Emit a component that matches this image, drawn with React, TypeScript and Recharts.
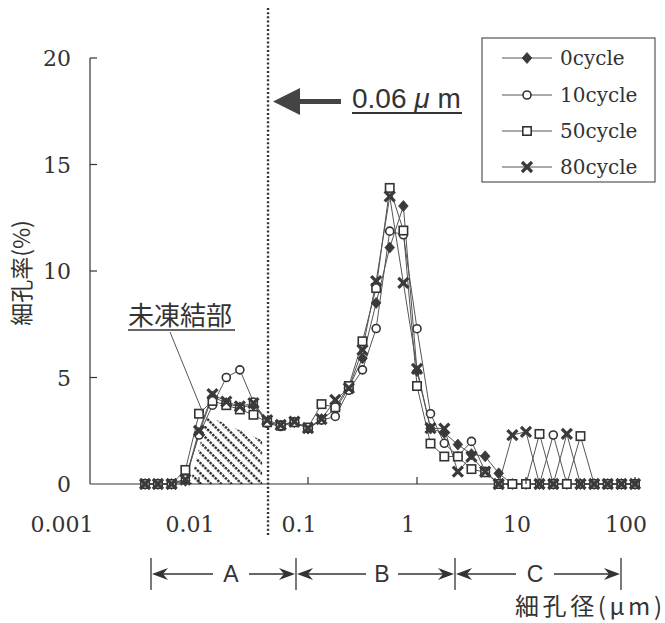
import React from 'react';
import { ComposedChart, Line, Area, XAxis, YAxis, ReferenceLine } from 'recharts';

// Pore diameter classes (μm), eight per decade
const poreSize = [
  0.0032, 0.0042, 0.0056, 0.0075, 0.01, 0.0133, 0.0178, 0.0237, 0.0316, 0.0422,
  0.0562, 0.075, 0.1, 0.133, 0.178, 0.237, 0.316, 0.422, 0.562, 0.75,
  1, 1.33, 1.78, 2.37, 3.16, 4.22, 5.62, 7.5, 10, 13.3,
  17.8, 23.7, 31.6, 42.2, 56.2, 75, 100,
];

// Pore volume fraction (%) per class, by number of freeze-thaw cycles
const cycle0 = [
  0, 0, 0, 0.15, 2.4, 4.1, 3.8, 3.6, 3.7, 2.9,
  2.75, 2.9, 2.6, 3.05, 3.5, 4.5, 5.9, 8.5, 11.1, 13.05,
  5.3, 2.6, 2.4, 1.85, 1.4, 1.3, 0.5, 0, 0, 0,
  0, 0, 0, 0, 0, 0, 0,
];
const cycle10 = [
  0, 0, 0, 0.25, 2.3, 3.7, 5.0, 5.36, 3.85, 2.85,
  2.7, 2.9, 2.6, 3.0, 3.17, 4.4, 5.36, 7.3, 11.87, 11.7,
  7.29, 3.3, 1.91, 1.3, 2.0, 0.6, 0, 0, 0, 0,
  2.3, 0, 0, 0, 0, 0, 0,
];
const cycle50 = [
  0, 0, 0, 0.66, 3.3, 3.9, 3.7, 3.5, 3.25, 2.9,
  2.75, 2.9, 2.65, 3.75, 3.6, 4.6, 6.7, 9.2, 13.9, 11.9,
  4.6, 1.9, 1.29, 1.29, 0.7, 0.55, 0, 0, 0, 2.35,
  0, 0, 2.25, 0, 0, 0, 0,
];
const cycle80 = [
  0, 0, 0, 0.2, 2.5, 4.22, 3.87, 3.64, 3.8, 3.0,
  2.78, 2.93, 2.62, 3.05, 3.95, 4.5, 6.3, 9.52, 13.5, 9.44,
  5.4, 2.62, 2.6, 0.58, 1.29, 0.58, 0, 2.3, 2.45, 0,
  0, 2.35, 0, 0, 0, 0, 0,
];

const seriesNames = ['0cycle', '10cycle', '50cycle', '80cycle'];

const xTicks = [0.001, 0.01, 0.1, 1, 10, 100];
const xTickLabels = ['0.001', '0.01', '0.1', '1', '10', '100'];
const yTicks = [0, 5, 10, 15, 20];

// Unfrozen-water region outline (size μm, fraction %)
const unfrozenSize = [0.0083, 0.0119, 0.038];
const unfrozenValue = [0, 3.2, 2.05];

// Threshold pore size marked by the dotted line
const thresholdSize = 0.043;

const rows = poreSize.map((x, i) => ({
  x,
  c0: cycle0[i],
  c10: cycle10[i],
  c50: cycle50[i],
  c80: cycle80[i],
}));
const unfrozenRows = unfrozenSize.map((x, i) => ({ x, v: unfrozenValue[i] }));

const INK = '#333';
const SERIF = "'DejaVu Serif', serif";
const SANS = "'Liberation Sans', Arial, sans-serif";
const CJK = "'Noto Sans CJK JP', sans-serif";

type Kind = 'diamond' | 'circle' | 'square' | 'cross';
const kinds: Kind[] = ['diamond', 'circle', 'square', 'cross'];
const keys = ['c0', 'c10', 'c50', 'c80'];

function Marker({ kind, cx, cy }: { kind: Kind; cx: number; cy: number }) {
  if (kind === 'diamond') {
    return (
      <polygon
        points={`${cx},${cy - 5.5} ${cx + 4.8},${cy} ${cx},${cy + 5.5} ${cx - 4.8},${cy}`}
        fill="#3a3a3a"
        stroke="#3a3a3a"
        strokeWidth={0.8}
      />
    );
  }
  if (kind === 'circle') {
    return <circle cx={cx} cy={cy} r={4} fill="#fff" stroke={INK} strokeWidth={1.6} />;
  }
  if (kind === 'square') {
    return <rect x={cx - 4.2} y={cy - 4.2} width={8.4} height={8.4} fill="#fff" stroke={INK} strokeWidth={1.6} />;
  }
  return (
    <g stroke="#3a3a3a" strokeWidth={3.2}>
      <line x1={cx - 5} y1={cy - 5} x2={cx + 5} y2={cy + 5} />
      <line x1={cx - 5} y1={cy + 5} x2={cx + 5} y2={cy - 5} />
    </g>
  );
}

const XTick = (props: any) => {
  const { x, y, payload } = props;
  const i = xTicks.indexOf(payload.value);
  // labels sit slightly left of their tick; the first one hangs further left
  const lx = i === 0 ? x - 28 : x - 9;
  return (
    <g>
      {i > 0 && <line x1={x} y1={y} x2={x} y2={y - 7} stroke={INK} strokeWidth={1.2} />}
      <text x={lx} y={y + 48} textAnchor="middle" fontFamily={SERIF} fontSize={22} fill={INK}>
        {xTickLabels[i]}
      </text>
    </g>
  );
};

const YTick = (props: any) => {
  const { x, y, payload } = props;
  return (
    <g>
      {payload.value > 0 && <line x1={x} y1={y} x2={x + 7} y2={y} stroke={INK} strokeWidth={1.2} />}
      <text x={x - 19} y={y + 8} textAnchor="end" fontFamily={SERIF} fontSize={22} fill={INK}>
        {payload.value}
      </text>
    </g>
  );
};

// Horizontal range bracket with arrowheads at both ends and a centred letter
function RangeArrow({ x1, x2, y, label, gap }: { x1: number; x2: number; y: number; label: string; gap: [number, number] }) {
  const head = (tip: number, dir: number) =>
    `${tip},${y} ${tip + dir * 16},${y - 6} ${tip + dir * 11},${y} ${tip + dir * 16},${y + 6}`;
  return (
    <g>
      <line x1={x1 + 10} y1={y} x2={gap[0]} y2={y} stroke={INK} strokeWidth={1.3} />
      <line x1={gap[1]} y1={y} x2={x2 - 10} y2={y} stroke={INK} strokeWidth={1.3} />
      <polygon points={head(x1 + 1, 1)} fill={INK} />
      <polygon points={head(x2 - 1, -1)} fill={INK} />
      <text x={(gap[0] + gap[1]) / 2} y={y + 8} textAnchor="middle" fontFamily={SANS} fontSize={23} fill={INK}>
        {label}
      </text>
    </g>
  );
}

export default function App() {
  const legendRows = [58, 95, 131, 167];
  return (
    <div style={{ position: 'absolute', left: 0, top: 0, width: 665, height: 623, background: '#fff' }}>
      <svg width={0} height={0} style={{ position: 'absolute' }}>
        <defs>
          <pattern id="unfrozenHatch" width={7.2} height={7.2} patternUnits="userSpaceOnUse" patternTransform="rotate(-45)">
            <line x1={1.5} y1={0} x2={1.5} y2={7.2} stroke="#222" strokeWidth={2.3} strokeDasharray="2.4 1.2" />
          </pattern>
        </defs>
      </svg>

      <ComposedChart width={665} height={623} data={rows} margin={{ top: 58, right: 30, bottom: 79, left: 0 }}>
        <XAxis
          dataKey="x"
          type="number"
          scale="log"
          domain={[0.001, 100]}
          ticks={xTicks}
          height={60}
          tickLine={false}
          tickSize={0}
          tickMargin={0}
          tick={<XTick />}
          axisLine={{ stroke: INK, strokeWidth: 1.2 }}
        />
        <YAxis
          type="number"
          domain={[0, 20]}
          ticks={yTicks}
          width={90}
          tickLine={false}
          tickSize={0}
          tickMargin={0}
          tick={<YTick />}
          axisLine={{ stroke: INK, strokeWidth: 1.2 }}
        />
        <Area
          data={unfrozenRows}
          dataKey="v"
          type="linear"
          fill="url(#unfrozenHatch)"
          fillOpacity={1}
          stroke="none"
          dot={false}
          activeDot={false}
          isAnimationActive={false}
        />
        <ReferenceLine
          segment={[
            { x: thresholdSize, y: 22.35 },
            { x: thresholdSize, y: -2.4 },
          ]}
          ifOverflow="visible"
          stroke="#333"
          strokeWidth={2.4}
          strokeDasharray="2 2.2"
        />
        {keys.map((k, s) => (
          <Line
            key={k}
            dataKey={k}
            name={seriesNames[s]}
            type="linear"
            stroke="#555"
            strokeWidth={1}
            isAnimationActive={false}
            activeDot={false}
            dot={(p: any) => (
              <g key={`${k}-${p.index}`}>
                <Marker kind={kinds[s]} cx={p.cx} cy={p.cy} />
              </g>
            )}
          />
        ))}
      </ComposedChart>

      <svg width={665} height={623} style={{ position: 'absolute', left: 0, top: 0, pointerEvents: 'none' }}>
        {/* legend */}
        <rect x={482} y={38} width={173} height={144} fill="#fff" stroke="#555" strokeWidth={1.2} />
        {seriesNames.map((name, s) => (
          <g key={name}>
            <line x1={502} y1={legendRows[s]} x2={552} y2={legendRows[s]} stroke="#555" strokeWidth={1} />
            <Marker kind={kinds[s]} cx={527} cy={legendRows[s]} />
            <text x={560} y={legendRows[s] + 7} fontFamily={SERIF} fontSize={20} fill={INK}>
              {name}
            </text>
          </g>
        ))}

        {/* threshold callout */}
        <polygon points="273,101.5 300,88 300,99 341,99 341,104 300,104 300,115" fill="#444" />
        <text x={352} y={108} fontFamily={SANS} fontSize={28} fill={INK}>
          0.06 <tspan fontStyle="italic">μ</tspan> m
        </text>
        <line x1={352} y1={113} x2={462} y2={113} stroke={INK} strokeWidth={1.8} />

        {/* unfrozen-region callout */}
        <text x={128} y={325} fontFamily={CJK} fontSize={26} fill={INK}>
          未凍結部
        </text>
        <line x1={128} y1={330} x2={235} y2={330} stroke={INK} strokeWidth={1.5} />
        <line x1={170} y1={332} x2={205} y2={418} stroke="#555" strokeWidth={1} />

        {/* pore-size ranges A / B / C */}
        {[151, 296, 455, 621].map((bx) => (
          <line key={bx} x1={bx} y1={558} x2={bx} y2={590} stroke={INK} strokeWidth={1.3} />
        ))}
        <RangeArrow x1={151} x2={296} y={574} label="A" gap={[213, 249]} />
        <RangeArrow x1={296} x2={455} y={574} label="B" gap={[366, 398]} />
        <RangeArrow x1={455} x2={621} y={574} label="C" gap={[516, 554]} />

        {/* axis titles */}
        <text
          x={20}
          y={273}
          transform="rotate(-90, 20, 273)"
          textAnchor="middle"
          dominantBaseline="central"
          fontFamily={CJK}
          fontSize={23}
          fill={INK}
        >
          細孔率(%)
        </text>
        <text
          x={515}
          y={615}
          textLength={147}
          lengthAdjust="spacing"
          fontFamily={CJK}
          fontSize={24}
          fill={INK}
        >
          細孔径(μm)
        </text>
      </svg>
    </div>
  );
}
